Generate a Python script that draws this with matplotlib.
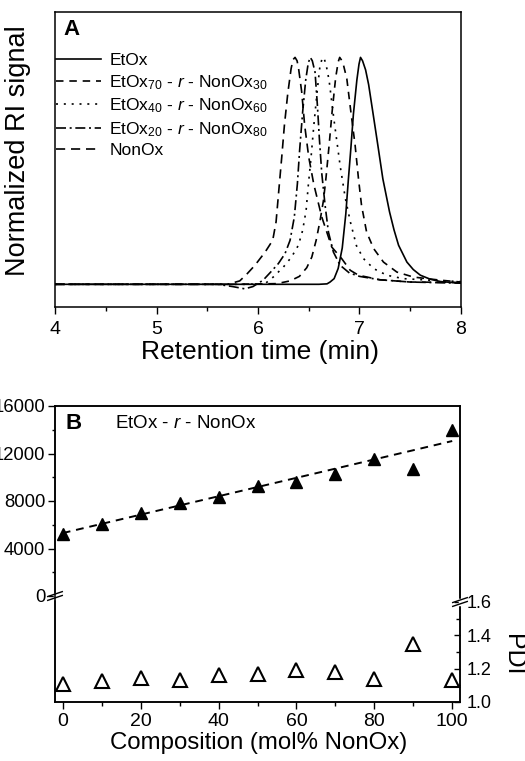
import numpy as np
import matplotlib
matplotlib.use('Agg')
import matplotlib.pyplot as plt

plt.rcParams['font.family'] = ['Liberation Sans', 'DejaVu Sans']
plt.rcParams['mathtext.fontset'] = 'custom'
plt.rcParams['mathtext.rm'] = 'Liberation Sans'
plt.rcParams['mathtext.it'] = 'Liberation Sans:italic'

# ---- panel A: normalized SEC traces (retention time, signal) ----
t_etox = [4.0, 6.60, 6.68, 6.71, 6.75, 6.79, 6.83, 6.865, 6.89, 6.915, 6.94, 6.974,
          6.995, 7.01, 7.03, 7.06, 7.09, 7.131, 7.181, 7.23, 7.296, 7.34, 7.385,
          7.467, 7.53, 7.60, 7.70, 7.80, 8.0]
s_etox = [0.0, 0.0, 0.002, 0.01, 0.025, 0.07, 0.16, 0.31, 0.46, 0.60, 0.75, 0.90,
          0.97, 1.0, 0.985, 0.945, 0.88, 0.76, 0.612, 0.465, 0.319, 0.24, 0.172,
          0.098, 0.065, 0.04, 0.022, 0.012, 0.005]

t_70 = [4.0, 5.8, 6.185, 6.316, 6.408, 6.48, 6.53, 6.573, 6.612, 6.645, 6.67, 6.70,
        6.73, 6.765, 6.79, 6.805, 6.82, 6.84, 6.875, 6.915, 6.957, 6.99, 7.02, 7.07,
        7.14, 7.236, 7.368, 7.53, 7.80, 8.0]
s_70 = [0.0, 0.0, 0.003, 0.015, 0.035, 0.073, 0.12, 0.194, 0.282, 0.37, 0.47, 0.61,
        0.76, 0.91, 0.98, 1.0, 0.99, 0.97, 0.906, 0.76, 0.612, 0.465, 0.348, 0.23,
        0.157, 0.098, 0.054, 0.032, 0.018, 0.01]

t_40 = [4.0, 5.9, 6.07, 6.15, 6.25, 6.33, 6.398, 6.44, 6.474, 6.497, 6.52, 6.55,
        6.585, 6.61, 6.635, 6.655, 6.67, 6.70, 6.75, 6.81, 6.86, 6.91, 6.97, 7.04,
        7.14, 7.27, 7.43, 7.70, 8.0]
s_40 = [0.0, 0.0, 0.003, 0.032, 0.076, 0.12, 0.172, 0.238, 0.326, 0.443, 0.546, 0.70,
        0.86, 0.96, 1.0, 0.99, 0.97, 0.90, 0.72, 0.52, 0.38, 0.275, 0.17, 0.113,
        0.069, 0.04, 0.025, 0.018, 0.012]

t_20 = [4.0, 5.6, 5.75, 5.87, 5.95, 6.05, 6.125, 6.2, 6.266, 6.316, 6.358, 6.388,
        6.41, 6.44, 6.47, 6.495, 6.515, 6.535, 6.562, 6.585, 6.605, 6.628, 6.661,
        6.694, 6.743, 6.809, 6.9, 7.0, 7.2, 7.5, 8.0]
s_20 = [0.0, 0.0, -0.01, -0.02, -0.01, 0.018, 0.054, 0.091, 0.135, 0.194, 0.297, 0.443,
        0.59, 0.76, 0.9, 0.975, 1.0, 0.985, 0.935, 0.79, 0.64, 0.49, 0.348,
        0.23, 0.142, 0.084, 0.05, 0.035, 0.02, 0.01, 0.005]

t_non = [4.0, 5.7, 5.82, 5.888, 5.97, 6.07, 6.145, 6.178, 6.208, 6.234, 6.26, 6.293,
         6.326, 6.345, 6.365, 6.385, 6.40, 6.43, 6.46, 6.50, 6.55, 6.628, 6.727,
         6.825, 6.908, 6.99, 7.2, 7.5, 8.0]
s_non = [0.0, 0.0, 0.015, 0.044, 0.084, 0.142, 0.194, 0.275, 0.429, 0.561, 0.70, 0.84,
         0.95, 0.99, 1.0, 0.985, 0.95, 0.85, 0.70, 0.56, 0.44, 0.297, 0.164,
         0.113, 0.062, 0.04, 0.02, 0.01, 0.008]

# ---- panel B: molar mass and PDI vs composition ----
comp = [0, 10, 20, 30, 40, 50, 60, 70, 80, 90, 100]
mn = [5200, 6050, 7030, 7790, 8350, 9300, 9610, 10310, 11540, 10680, 13950]
pdi = [1.11, 1.126, 1.144, 1.13, 1.16, 1.17, 1.19, 1.178, 1.14, 1.348, 1.13]
fit_x = [0, 100]
fit_y = [5300, 13050]

fig = plt.figure(figsize=(5.25, 7.61), dpi=100)

# panel A
axa = fig.add_axes([55 / 525, 1 - 307 / 761, 406 / 525, 295 / 761])
axa.plot(t_etox, s_etox, color='black', lw=1.2, label='EtOx')
axa.plot(t_70, s_70, color='black', lw=1.2, dashes=(4.5, 3.5),
         label='EtOx$_{70}$ - $\\mathit{r}$ - NonOx$_{30}$')
axa.plot(t_40, s_40, color='black', lw=1.2, dashes=(1.2, 3.5),
         label='EtOx$_{40}$ - $\\mathit{r}$ - NonOx$_{60}$')
axa.plot(t_20, s_20, color='black', lw=1.2, dashes=(6, 2.2, 1.2, 2.2),
         label='EtOx$_{20}$ - $\\mathit{r}$ - NonOx$_{80}$')
axa.plot(t_non, s_non, color='black', lw=1.2, dashes=(5.5, 3.5), label='NonOx')
axa.set_xlim(4, 8)
axa.set_ylim(-0.1, 1.2)
axa.set_xticks([4, 5, 6, 7, 8])
axa.set_xticks(np.arange(4.5, 8, 1.0), minor=True)
axa.set_yticks([])
axa.tick_params(axis='x', which='major', direction='out', length=5, width=1,
                labelsize=14, pad=5)
axa.tick_params(axis='x', which='minor', direction='out', length=3, width=1)
for sp in axa.spines.values():
    sp.set_linewidth(1.1)
axa.set_xlabel('Retention time (min)', fontsize=19)
axa.xaxis.set_label_coords(0.505, -0.112)
axa.set_ylabel('Normalized RI signal', fontsize=19.5)
axa.yaxis.set_label_coords(-0.058, 0.53)
axa.text(0.02, 0.94, 'A', transform=axa.transAxes, fontsize=16,
         fontweight='bold', va='center', ha='left')
axa.legend(loc='upper left', bbox_to_anchor=(0.003, 0.86), frameon=False,
           fontsize=12.5, handlelength=2.6, handletextpad=0.45,
           labelspacing=0.27, borderpad=0, borderaxespad=0)

# panel B
axb = fig.add_axes([55 / 525, 1 - 702 / 761, 405 / 525, 296 / 761])
axb.plot(fit_x, fit_y, color='black', lw=1.4, dashes=(4, 3))
axb.plot(comp, mn, linestyle='none', marker='^', ms=9, color='black')
axb.set_xlim(-2, 102)
axb.set_ylim(-(702 - 596) / 190 * 16000, 16000)
axb.set_xticks([0, 20, 40, 60, 80, 100])
axb.set_xticks([10, 30, 50, 70, 90], minor=True)
axb.set_yticks([0, 4000, 8000, 12000, 16000])
axb.set_yticks([2000, 6000, 10000, 14000], minor=True)
axb.tick_params(axis='x', which='major', direction='out', length=5, width=1,
                labelsize=14, pad=3)
axb.tick_params(axis='x', which='minor', direction='out', length=3, width=1)
axb.tick_params(axis='y', which='major', direction='out', length=5, width=1,
                labelsize=13.3, pad=2)
axb.tick_params(axis='y', which='minor', direction='out', length=2.5, width=1)
axb.set_xlabel('Composition (mol% NonOx)', fontsize=17.3)
axb.xaxis.set_label_coords(0.502, -0.1)
axb.text(0.025, 0.94, 'B', transform=axb.transAxes, fontsize=16,
         fontweight='bold', va='center', ha='left')
axb.text(0.148, 0.94, 'EtOx - $\\mathit{r}$ - NonOx', transform=axb.transAxes,
         fontsize=13.5, va='center', ha='left')

axr = axb.twinx()
axr.plot(comp, pdi, linestyle='none', marker='^', ms=9.5, mfc='white',
         mec='black', mew=1.5)
axr.set_ylim(1.0, 1.0 + 0.6 * 296 / 100)
axr.set_yticks([1.0, 1.2, 1.4, 1.6])
axr.set_yticks([1.1, 1.3, 1.5], minor=True)
axr.tick_params(axis='y', which='major', direction='in', length=4, width=1,
                labelsize=13, pad=5)
axr.tick_params(axis='y', which='minor', direction='in', length=3, width=1)
for ax in (axb, axr):
    for sp in ax.spines.values():
        sp.set_linewidth(1.1)
fig.text(513 / 525, 1 - 655 / 761, 'PDI', rotation=270, fontsize=18,
         ha='center', va='center')


def break_mark(ax, xpos, yval):
    # two short slashes over a white gap in the spine
    y_px = ax.transData.transform((0, yval))[1]
    yc = ax.transAxes.inverted().transform((0, y_px))[1]
    h = 3.5 / 296
    ax.plot([xpos, xpos], [yc - h * 0.6, yc + h * 0.6], transform=ax.transAxes,
            color='white', lw=2.5, clip_on=False, zorder=5)
    for off in (-h * 0.55, h * 0.55):
        ax.plot([xpos - 0.018, xpos + 0.018], [yc + off - h * 0.7, yc + off + h * 0.7],
                transform=ax.transAxes, color='black', lw=1.0, clip_on=False, zorder=6)


break_mark(axb, 0.0, 0)
break_mark(axr, 1.0, 1.6)

fig.savefig('out.png', dpi=100)
